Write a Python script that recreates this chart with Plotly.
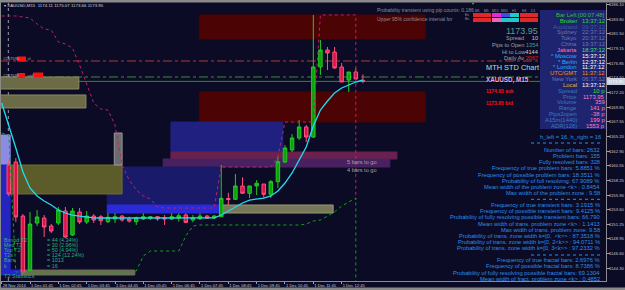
import plotly.graph_objects as go

# ---------------- data ----------------
bar_index = list(range(0, 51))
open_ = [1160.68, 1161.16, 1152.58, 1144.01, 1151.47, 1152.27, 1151.00, 1151.47, 1153.38, 1149.57,
         1153.22, 1151.63, 1152.58, 1152.47, 1151.68, 1152.11, 1152.58, 1152.11, 1151.68, 1152.11,
         1152.22, 1152.47, 1152.31, 1152.11, 1152.22, 1152.74, 1151.95, 1152.15, 1152.58, 1152.27,
         1152.47, 1155.36, 1155.24, 1157.35, 1156.19, 1157.35, 1157.66, 1156.03, 1158.03, 1161.16,
         1163.06, 1164.97, 1166.71, 1165.12, 1176.24, 1178.93, 1178.62, 1176.24, 1174.17, 1175.44,
         1174.11]
high_ = [1161.47, 1161.79, 1152.90, 1153.22, 1153.54, 1152.74, 1151.31, 1154.01, 1154.01, 1153.85,
         1153.85, 1153.38, 1152.90, 1152.74, 1153.06, 1153.06, 1152.74, 1152.47, 1152.47, 1153.01,
         1152.58, 1152.58, 1152.74, 1153.01, 1153.01, 1153.01, 1152.74, 1153.01, 1152.74, 1152.74,
         1160.68, 1156.28, 1159.25, 1158.73, 1157.35, 1158.30, 1157.66, 1158.30, 1162.00, 1163.85,
         1165.60, 1167.82, 1167.03, 1184.49, 1180.52, 1179.41, 1179.41, 1176.87, 1175.44, 1176.08,
         1175.07]
low_ = [1155.76, 1151.63, 1143.38, 1143.70, 1151.00, 1149.25, 1149.89, 1151.16, 1149.09, 1149.41,
        1151.31, 1151.31, 1151.47, 1151.16, 1151.47, 1151.47, 1151.68, 1151.52, 1151.16, 1151.95,
        1151.95, 1151.84, 1151.16, 1151.95, 1151.68, 1151.47, 1151.58, 1151.95, 1152.11, 1152.11,
        1152.43, 1154.33, 1155.12, 1156.08, 1155.44, 1155.92, 1155.49, 1155.44, 1157.03, 1161.00,
        1162.74, 1164.65, 1164.33, 1164.97, 1174.97, 1175.76, 1175.92, 1173.85, 1172.27, 1174.17,
        1173.66]
close_ = [1156.08, 1152.43, 1143.70, 1151.31, 1152.43, 1150.84, 1150.20, 1153.54, 1149.25, 1153.38,
          1151.63, 1152.58, 1151.95, 1151.84, 1152.38, 1152.47, 1151.95, 1151.79, 1152.31, 1152.47,
          1152.47, 1152.11, 1152.11, 1152.47, 1152.63, 1151.58, 1152.31, 1152.58, 1152.22, 1152.58,
          1155.39, 1155.20, 1157.35, 1156.19, 1157.35, 1157.78, 1156.03, 1158.03, 1161.20, 1163.38,
          1164.97, 1166.71, 1165.12, 1176.24, 1178.93, 1178.46, 1176.08, 1173.85, 1175.44, 1174.33,
          1173.95]

ma_index = list(range(-1, 51))
ma_values = [1170.52, 1167.03, 1163.38, 1159.57, 1157.03, 1155.76, 1154.97, 1154.33, 1153.54, 1153.06,
             1152.74, 1152.58, 1152.43, 1152.30, 1152.27, 1152.27, 1152.25, 1152.22, 1152.22, 1152.25,
             1152.27, 1152.27, 1152.25, 1152.25, 1152.27, 1152.30, 1152.25, 1152.25, 1152.27, 1152.27,
             1152.30, 1152.74, 1153.38, 1154.01, 1154.65, 1155.12, 1155.28, 1155.44, 1155.76, 1156.55,
             1157.82, 1159.41, 1161.47, 1163.54, 1166.87, 1169.41, 1170.84, 1172.11, 1172.90, 1173.38,
             1173.85, 1174.17]

band_index = list(range(-1, 50)) + [49]
upper_band = [1184.33, 1184.33, 1184.33, 1184.17, 1184.01, 1183.06, 1182.27, 1182.11, 1180.20, 1179.89,
              1179.25, 1176.55, 1173.38, 1170.52, 1169.57, 1169.41, 1167.03, 1160.68, 1158.30, 1156.71,
              1155.76, 1155.28, 1154.01, 1153.85, 1153.85, 1153.85, 1153.85, 1153.85, 1153.85, 1153.85,
              1153.85, 1160.36, 1160.36, 1160.36, 1160.36, 1160.36, 1160.36, 1160.36, 1160.36, 1161.95,
              1167.50, 1167.50, 1167.50, 1167.50, 1167.50, 1184.49, 1184.49, 1184.49, 1184.49, 1184.49,
              1184.49, 1155.12]
lower_band = [1165.76, 1165.44, 1143.70, 1143.70, 1143.70, 1143.70, 1143.70, 1143.70, 1143.70, 1143.70,
              1143.70, 1143.70, 1143.70, 1143.70, 1143.70, 1143.70, 1143.70, 1143.70, 1143.70, 1143.85,
              1146.24, 1147.03, 1147.03, 1147.03, 1147.03, 1147.03, 1149.41, 1151.00, 1151.16, 1151.16,
              1151.16, 1151.16, 1151.16, 1151.16, 1151.16, 1151.16, 1151.16, 1151.16, 1151.16, 1151.16,
              1151.16, 1151.16, 1151.16, 1151.31, 1151.79, 1151.95, 1152.58, 1153.22, 1154.17, 1154.81,
              1155.44, 1140.00]

time_tick_index = [-1, 3, 7, 11, 15, 19, 23, 27, 31, 35, 39, 43, 47]
time_tick_labels = ["28 Nov 2014", "1 Dec 01:45", "1 Dec 02:45", "1 Dec 03:45", "1 Dec 04:45",
                    "1 Dec 05:45", "1 Dec 06:45", "1 Dec 07:45", "1 Dec 08:45", "1 Dec 09:45",
                    "1 Dec 10:45", "1 Dec 11:45", "1 Dec 12:45"]

price_ticks = [1186.10, 1183.80, 1181.50, 1179.15, 1176.85, 1174.50, 1172.20, 1169.85, 1167.55, 1165.20,
               1162.90, 1160.55, 1158.25, 1155.90, 1153.60, 1151.25, 1148.95, 1146.60, 1144.30, 1141.95]
price_tick_labels = ["1186.10", "1183.80", "1181.50", "1179.15", "1176.85", "1174.50", "1172.20",
                     "1169.85", "1167.55", "1165.20", "1162.90", "1160.55", "1158.25", "1155.90",
                     "1153.60", "1151.25", "1148.95", "1146.60", "1144.30", "1141.95"]

bid_price = 1173.95
ask_price = 1174.05
sl_level = 1177.19
order_level = 1174.65

# zones: start bar, end bar, low price, high price
zone_start = [26.9, 26.9, -1.3, -1.3, 22.9, 22.9, 21.8, 13.9, 13.9, 0.2, 14.9, 29.8, 1.6, -1.3, -1.3, -1.3]
zone_end = [58.8, 58.8, 9.9, 10.9, 38.7, 54.8, 53.8, 29.8, 29.8, 16.0, 16.0, 45.8, 17.8, 1.6, 0.2, 0.2]
zone_low = [1180.68, 1167.50, 1172.74, 1169.73, 1162.74, 1161.63, 1160.36, 1154.33, 1153.06, 1156.08,
            1160.68, 1153.06, 1143.22, 1143.22, 1160.68, 1143.70]
zone_high = [1184.49, 1172.27, 1174.65, 1171.79, 1167.50, 1162.74, 1161.63, 1160.36, 1154.33, 1160.68,
             1165.76, 1154.33, 1144.01, 1144.01, 1165.44, 1160.68]

# timeframe signal table
tf_names = ["M1", "M5", "M15", "M30", "H1", "H4", "D1"]
tf_row_names = ["Ex", "Bx"]

# info panel
panel_labels = ["Bar Left", "Broker", "Auckland", "Sydney", "Tokyo", "China", "Jakarta", "* Moscow",
                "* Berlin", "* London", "UTC/GMT", "New York", "Local", "Spread", "Price", "Volume",
                "Range", "Pips2open", "A15m(1440)", "ADR(126)"]
panel_values = ["[00:07:48]", "13:37:12", "09:37:12", "22:37:12", "20:37:12", "19:37:12", "18:37:12",
                "15:37:12", "12:37:12", "11:37:12", "11:37:12", "06:37:12", "13:37:12", "10 p",
                "1173.95", "359", "141 p", "-38 p", "199 p", "1553 p"]

stats_lines = ["Number of bars: 2632", "Problem bars: 155", "Fully resolved bars: 328",
               "Frequency of true problem bars: 5.8851 %", "Frequency of possible problem bars: 18.3511 %",
               "Probability of full resolving: 67.9089 %", "Mean width of the problem zone <k> : 0.8454",
               "Max width of the problem zone : 9.58", "",
               "Frequency of true transient bars: 3.1915 %", "Frequency of possible transient bars: 9.4125 %",
               "Probability of fully resolving possible transient bars: 66.790",
               "Mean width of trans. problem zone <k> : 1.1413", "Max width of trans. problem zone: 9.58",
               "Probability of trans. zone width k=[0,  <k>> : 87.3518 %",
               "Probability of trans. zone width k=[0, 2<k>> : 94.0711 %",
               "Probability of trans. zone width k=[0, 3<k>> : 97.2332 %", "",
               "Frequency of true fractal bars: 2.6976 %", "Frequency of possible fractal bars: 8.7386 %",
               "Probability of fully resolving possible fractal bars: 69.1304",
               "Mean width of fract. problem zone <k> : 0.4852"]

t2_labels = ["Bimod T2", "Med T2", "Top T2", "T2s", "Bars", "k"]
t2_values = ["= 44 (4.34%)", "= 30 (2.96%)", "= 50 (4.94%)", "= 124 (12.24%)", "= 1013", "= 16"]

# ---------------- styles / layout ----------------
BG = "#0b0b26"
FONT = "Liberation Sans"
PL, PR, PT, PB = 1, 606, 3, 281
X_RANGE = [-1.094, 84.32]
Y_RANGE = [1142.27, 1186.39]


def px(x):
    return (x - PL) / (PR - PL)


def py(y):
    return (PB - y) / (PB - PT)


zone_fill = ["#4c0303", "#4c0303", "#6b6b47", "#6b6b47", "#202080", "#6b2150", "#4a2160", "#1a1a6a",
             "#2a2ad8", "#5c5c2a", "#6c6c6c", "#77775a", "#6e6e56", "#2424d0", "#8c8ce6", "#2424c0"]
zone_line = ["#4c0303", "#4c0303", "#8c8c5c", "#8c8c5c", "#202080", "#6b2150", "#4a2160", "#1a1a6a",
             "#2a2ad8", "#6e6e30", "#9a9a9a", "#9a9a70", "#6e6e56", "#2424d0", "#8c8ce6", "#2424c0"]

shapes = []
for s, e, lo, hi, fc, lc in zip(zone_start, zone_end, zone_low, zone_high, zone_fill, zone_line):
    shapes.append(dict(type="rect", xref="x", yref="y", x0=s, x1=e, y0=lo, y1=hi,
                       fillcolor=fc, line=dict(color=lc, width=1), layer="below"))

# horizontal levels
shapes.append(dict(type="line", xref="paper", yref="y", x0=0, x1=1, y0=sl_level, y1=sl_level,
                   line=dict(color="#b03a3a", width=1, dash="dashdot"), layer="below"))
shapes.append(dict(type="line", xref="paper", yref="y", x0=0, x1=1, y0=order_level, y1=order_level,
                   line=dict(color="#3a8a3a", width=1, dash="dashdot"), layer="below"))
shapes.append(dict(type="line", xref="paper", yref="y", x0=0, x1=1, y0=bid_price, y1=bid_price,
                   line=dict(color="#10a010", width=1), layer="below"))
# period separator
shapes.append(dict(type="line", xref="x", yref="paper", x0=-0.06, x1=-0.06, y0=0, y1=1,
                   line=dict(color="#9a9aaa", width=1, dash="dot"), layer="below"))

# window frame strips
for (x0, x1, y0, y1) in [(0, 625, 0, 2.5), (0, 625, 287.5, 290), (0, 1, 0, 290)]:
    shapes.append(dict(type="rect", xref="paper", yref="paper", x0=px(x0), x1=px(x1), y0=py(y1), y1=py(y0),
                       fillcolor="#8a8a8a", line=dict(width=0), layer="above"))

# info panel box
shapes.append(dict(type="rect", xref="paper", yref="paper", x0=px(540), x1=px(606), y0=py(129), y1=py(10),
                   fillcolor="#1f2470", line=dict(color="#1f2470", width=0), layer="above"))
# separators in stats
for ysep in [143, 199.3, 255]:
    shapes.append(dict(type="line", xref="paper", yref="paper", x0=px(531), x1=px(601), y0=py(ysep),
                       y1=py(ysep), line=dict(color="#2b8fe8", width=1, dash="dot"), layer="above"))

fig = go.Figure()
fig.add_trace(go.Candlestick(
    x=bar_index, open=open_, high=high_, low=low_, close=close_,
    increasing=dict(line=dict(color="#22cc22", width=1), fillcolor="#0ea00e"),
    decreasing=dict(line=dict(color="#ff5080", width=1), fillcolor="#dc1446"),
    whiskerwidth=0, hoverinfo="skip"))
fig.add_trace(go.Scatter(x=ma_index, y=ma_values, mode="lines",
                         line=dict(color="#22dcf0", width=1.3), hoverinfo="skip"))
fig.add_trace(go.Scatter(x=band_index, y=upper_band, mode="lines",
                         line=dict(color="#c0206a", width=1, dash="dot"), hoverinfo="skip"))
fig.add_trace(go.Scatter(x=band_index, y=lower_band, mode="lines",
                         line=dict(color="#14a014", width=1, dash="dot"), hoverinfo="skip"))

ann = []


def txt(x, y, s, color, size, anchor="left", weight=None, bg=None, family=FONT, shadow=None):
    f = dict(family=family, size=size, color=color)
    if weight:
        f["weight"] = weight
    if shadow:
        f["shadow"] = shadow
    d = dict(xref="paper", yref="paper", x=px(x), y=py(y), text=s, showarrow=False,
             xanchor=anchor, yanchor="middle", font=f, borderpad=0, borderwidth=0)
    if bg:
        d["bgcolor"] = bg
    ann.append(d)


def cell(x0, x1, y0, y1, color):
    ann.append(dict(xref="paper", yref="paper", x=px(x0), y=py(y1), width=x1 - x0, height=y1 - y0,
                    text="", showarrow=False, xanchor="left", yanchor="bottom", bgcolor=color,
                    borderpad=0, borderwidth=0))


# price labels on the right axis
for v, lab in zip(price_ticks, price_tick_labels):
    ann.append(dict(xref="paper", yref="y", x=1, y=v, xshift=3, text=lab, showarrow=False,
                    xanchor="left", yanchor="middle", borderpad=0, borderwidth=0,
                    font=dict(family=FONT, size=4.2, color="#c8c8d0")))
ann.append(dict(xref="paper", yref="y", x=1, y=bid_price, xshift=1, text="%.2f" % bid_price,
                showarrow=False, xanchor="left", yanchor="middle", borderpad=1, borderwidth=0,
                bgcolor="#c8d0dc", font=dict(family=FONT, size=4.4, color="#ffffff")))

# title
txt(4, 5.5, "▾ XAUUSD,M15  1174.11 1175.07 1173.66 1173.95", "#d0d0d8", 4.4)
# order labels
txt(3, 58, "#247590 &nbsp; &nbsp; &nbsp; sl", "#a8a8b0", 4.2)
txt(3, 75, "#247590 &nbsp; &nbsp; &nbsp; sell", "#a8a8b0", 4.2)
for (xa, ya, w) in [(17, 59, 9), (17, 75.5, 8), (33, 75, 10)]:
    shapes.append(dict(type="rect", xref="paper", yref="paper", x0=px(xa), x1=px(xa + w), y0=py(ya + 2.5),
                       y1=py(ya - 2.5), fillcolor="#ff1010", line=dict(width=0), layer="above"))

# probability texts (the second one disappears under the timeframe table)
txt(377, 10, "Probability transient using pip counts: 0.186", "#8c8c94", 5.0)
txt(377, 19, "Upper 95% confidence interval for", "#8c8c94", 5.0)

# timeframe table
tf_row1 = ["#e02828", "#e02828", "#e028e0", "#4848e8", "#20c8c8", "#e02828", "#e02828"]
tf_row2 = ["#e02828", "#e02828", "#e868b0", "#20c8c8", "#20c8c8", "#e02828", "#e02828"]
for c, name in enumerate(tf_names):
    x0 = 473 + c * 9.3
    txt(x0 + 4, 10.5, name, "#9a9aa4", 3.4, anchor="center")
    cell(x0, x0 + 8.6, 13, 16.5, tf_row1[c])
    cell(x0, x0 + 8.6, 17.5, 21.5, tf_row2[c])
txt(467, 15, tf_row_names[0], "#9a9aa4", 3.4, anchor="center")
txt(467, 19.5, tf_row_names[1], "#9a9aa4", 3.4, anchor="center")

# quote block
txt(538, 31, "1173.95", "#5a9a9a", 9, anchor="right")
txt(538, 38.5, "Spread &nbsp; &nbsp; <span style='color:#d0d0d0'>10</span>", "#a0a0a8", 5.6, anchor="right")
txt(538, 45, "Pips to Open <span style='color:#40a0a0'>1354</span>", "#a0a0a8", 5.6, anchor="right")
txt(538, 52, "Hi to Low<span style='color:#d0d0d0'>4144</span>", "#a0a0a8", 5.6, anchor="right")
txt(538, 58.5, "Daily Av <span style='color:#e02020'>2067</span>", "#a0a0a8", 5.6, anchor="right")
txt(486, 67, "MTH STD Chart", "#a8e0e0", 7.4)
txt(486, 80, "XAUUSD, M15", "#f0a0f0", 6.3, weight=700, shadow="1px 1px 1px #000000")
txt(486, 91, "1174.05 ask", "#ff1010", 5.0, weight=700)
txt(486, 103, "1173.95 bid", "#ff1010", 5.0, weight=700)

# info panel rows
label_colors = ["#30c030", "#20e020", "#3a5aa0", "#6a78b0", "#6a78b0", "#6a78b0", "#ff70b0", "#20b0ff",
                "#20b0ff", "#20b0ff", "#ff8c00", "#6a78b0", "#e0b030", "#3a7ac0", "#3a7ac0", "#3a7ac0",
                "#3a7ac0", "#3a7ac0", "#3a7ac0", "#3a7ac0"]
value_colors = ["#30c030", "#20e020", "#3a5aa0", "#6a78b0", "#6a78b0", "#6a78b0", "#40e080", "#ffffff",
                "#ffffff", "#ffffff", "#ff8c00", "#6a78b0", "#ffffff", "#30e030", "#ff80c0", "#ff80c0",
                "#ff80c0", "#ff80c0", "#ff80c0", "#ff80c0"]
for k, (lab, val, lc, vc) in enumerate(zip(panel_labels, panel_values, label_colors, value_colors)):
    yy = 15 + k * 5.83
    txt(576.5, yy, lab, lc, 5.9, anchor="right")
    txt(605, yy, val, vc, 5.9, anchor="right")

txt(601, 137, "h_left = 16, h_right = 16", "#2a90e0", 5.8, anchor="right")
for k, line in enumerate(stats_lines):
    if line:
        safe = line.replace("<", "&lt;").replace(">", "&gt;")
        txt(600, 150 + k * 6.13, safe, "#2b8fe8", 5.75, anchor="right")

# left T2 statistics
for k, (lab, val) in enumerate(zip(t2_labels, t2_values)):
    yy = 239.5 + k * 5.2
    txt(4, yy, lab, "#28b078", 5.4)
    txt(47, yy, val, "#28b078", 5.4)
txt(4, 276, "T2 Statistics", "#28b078", 5.6)

# bars to go
txt(347, 162, "5 bars to go", "#a0a0a8", 5.6)
txt(347, 170, "4 bars to go", "#a0a0a8", 5.6)

# top chart-shift marker
txt(473, 3, "▼", "#30c030", 4, anchor="center")

fig.update_layout(
    width=625, height=290, margin=dict(l=PL, r=625 - PR, t=PT, b=290 - PB),
    paper_bgcolor=BG, plot_bgcolor=BG, showlegend=False, boxgap=0.3,
    shapes=shapes, annotations=ann,
    xaxis=dict(range=X_RANGE, showgrid=False, zeroline=False, rangeslider=dict(visible=False),
               tickmode="array", tickvals=time_tick_index, ticktext=time_tick_labels, tickangle=0,
               ticks="outside", ticklen=2, tickcolor="#a0a0a8", ticklabelposition="outside right",
               tickfont=dict(family=FONT, size=4.1, color="#c8c8d0"),
               showline=True, linecolor="#8a8a96", linewidth=1),
    yaxis=dict(range=Y_RANGE, side="right", showgrid=False, zeroline=False,
               tickmode="array", tickvals=price_ticks, showticklabels=False,
               ticks="outside", ticklen=3, tickcolor="#a0a0a8",
               showline=True, linecolor="#8a8a96", linewidth=1),
)

fig.write_html("out.html")
